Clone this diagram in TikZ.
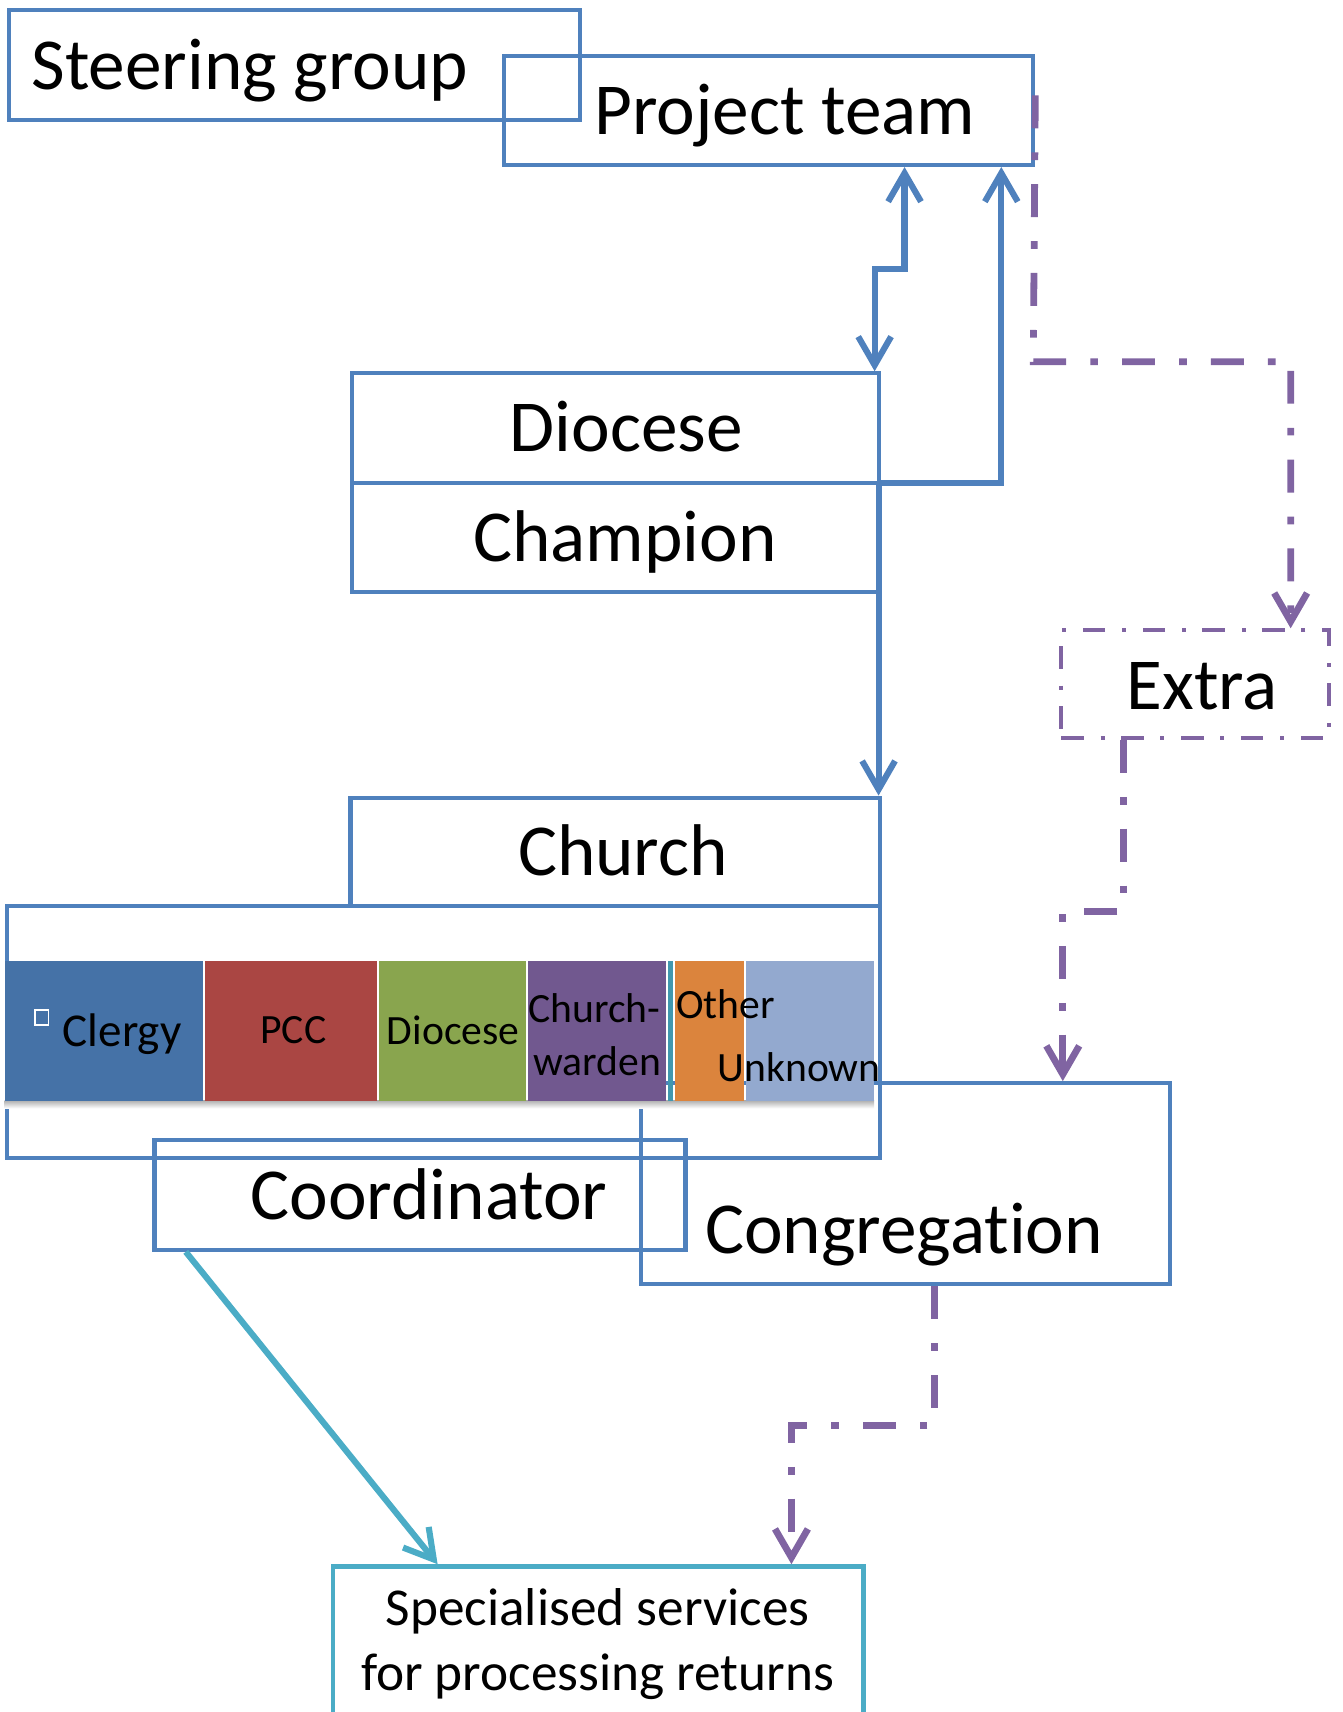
\documentclass[tikz,border=0pt]{standalone}
\usepackage{fontspec}
\setmainfont{Carlito}[Ligatures={NoCommon}]
\usetikzlibrary{arrows.meta,fit,calc}
\definecolor{cblue}{HTML}{4F81BD}
\definecolor{cpurple}{HTML}{8064A2}
\definecolor{ccyan}{HTML}{4BACC6}
\definecolor{sClergy}{HTML}{4572A7}
\definecolor{sPCC}{HTML}{AA4643}
\definecolor{sDio}{HTML}{89A54E}
\definecolor{sCw}{HTML}{71588F}
\definecolor{sTeal}{HTML}{4198AF}
\definecolor{sOther}{HTML}{DB843D}
\definecolor{sUnk}{HTML}{93A9CF}
\begin{document}
\begin{tikzpicture}[x=0.5pt,y=-0.5pt,
  box/.style={draw=cblue, line width=1.85pt, inner sep=0pt},
  big/.style={font=\fontsize{33.4}{40}\selectfont, inner sep=0pt, anchor=base},
  small/.style={font=\fontsize{19}{23}\selectfont, inner sep=0pt, anchor=base west},
  conn/.style={draw=cblue, line width=2.8pt},
  pconn/.style={draw=cpurple, line width=3.1pt, dash pattern=on 15pt off 11pt on 3.5pt off 11pt},
  >={Straight Barb[length=13pt,width=15pt]}
]
\useasboundingbox (0,0) rectangle (1225,1561.6);
\begin{scope}[xscale=0.996]
% boxes
\path (7.9,9.1) coordinate (sg1) (531.6,109.5) coordinate (sg2)
      (461.8,51) coordinate (pt1) (946.3,150.5) coordinate (pt2)
      (322.5,340.5) coordinate (dc1) (805,540) coordinate (dc2)
      (321,727.5) coordinate (ch1) (806.3,826.4) coordinate (ch2)
      (6.3,826.4) coordinate (bb1) (806.3,1056) coordinate (bb2)
      (972,575) coordinate (ex1) (1217,673) coordinate (ex2)
      (586.7,988) coordinate (cg1) (1071.6,1171.5) coordinate (cg2)
      (141.5,1040) coordinate (co1) (627.8,1140) coordinate (co2)
      (305,1429) coordinate (sp1) (791,1580) coordinate (sp2);
\node[box, fit=(cg1)(cg2)] (cg) {};
\node[box, fit=(sg1)(sg2)] (sg) {};
\node[box, fit=(pt1)(pt2)] (pt) {};
\node[box, fit=(dc1)(dc2)] (dc) {};
\draw[draw=cblue, line width=1.85pt] (dc.west) -- (dc.east);
\node[box, fit=(ch1)(ch2)] (ch) {};
\node[box, fit=(bb1)(bb2)] (bb) {};
\node[box, fit=(co1)(co2)] (co) {};
\node[inner sep=0pt, draw=cpurple, line width=1.9pt,
      dash pattern=on 10.3pt off 7.6pt on 1.8pt off 7.6pt, fit=(ex1)(ex2)] (ex) {};
\node[inner sep=0pt, draw=ccyan, line width=2.2pt, fit=(sp1)(sp2)] (sp) {};
% bar
\shade[top color=black!30, bottom color=white] (4.2,1004) rectangle (800.5,1011);
\fill[sClergy] (4.2,876.6) rectangle (186,1004);
\fill[sPCC] (188,876.6) rectangle (345.5,1004);
\fill[sDio] (347.5,876.6) rectangle (481.5,1004);
\fill[sCw] (483.5,876.6) rectangle (610,1004);
\fill[sTeal] (611.5,876.6) rectangle (616.5,1004);
\fill[sOther] (618.5,876.6) rectangle (681.5,1004);
\fill[sUnk] (683.5,876.6) rectangle (800.5,1004);
\draw[white, line width=0.8pt] (32,921) rectangle (44.5,935);
% bar labels
\node[inner sep=0pt, anchor=base west, font=\fontsize{21.5}{25}\selectfont] (lcl) at (57,954.7) {Clergy};
\node[small] (lpcc) at (238,952) {PCC};
\node[small] (ldio) at (354,953) {Diocese};
\node[small] (lcw1) at (483.4,932.8) {Church-};
\node[small] (lcw2) at (488,980.6) {warden};
\node[small] (lot) at (618.8,928.6) {Other};
\node[small] (lun) at (656.8,986.7) {Unknown};
% big labels
\node[big] (tsg) at (228.7,82) {Steering group};
\node[big] (tpt) at (718.8,123) {Project team};
\node[big] (tdc) at (573.5,412) {Diocese};
\node[big] (tcp) at (572.5,512.4) {Champion};
\node[big] (tch) at (570.5,799) {Church};
\node[big] (tex) at (1101,647) {Extra};
\node[big] (tco) at (393,1112) {Coordinator};
\node[big] (tcg) at (828,1143) {Congregation};
\node[inner sep=0pt, anchor=base, font=\fontsize{24.3}{29}\selectfont] (tsp1) at (547.3,1482.5) {Specialised services};
\node[inner sep=0pt, anchor=base, font=\fontsize{24.3}{29}\selectfont] (tsp2) at (547.3,1541.6) {for processing returns};
% connectors
\draw[conn,<->] (828.4,0 |- pt.south) -- (828.4,245) -- (801,245) -- (801,0 |- dc.north);
\draw[conn,->] (dc.east) -- (917,0 |- dc.east) -- (917,0 |- pt.south);
\draw[conn,->] (804.6,0 |- dc.east) -- (804.6,0 |- ch.north);
\draw[pconn,->] (pt.east |- 0,87) -- (946.3,330) -- (1182,330) -- (1182,0 |- ex.north);
\draw[pconn,->] (1028.6,0 |- ex.south) -- (1028.6,831.6) -- (973.3,831.6) -- (973.3,0 |- cg.north);
\draw[pconn,->] (855.7,0 |- cg.south) -- (855.7,1300) -- (724.8,1300) -- (724.8,0 |- sp.north);
\draw[draw=ccyan, line width=2.8pt, ->] ($(co.south west)+(30.5,0)$) -- ($(sp.north west)+(98,0)$);
\end{scope}
\end{tikzpicture}
\end{document}
